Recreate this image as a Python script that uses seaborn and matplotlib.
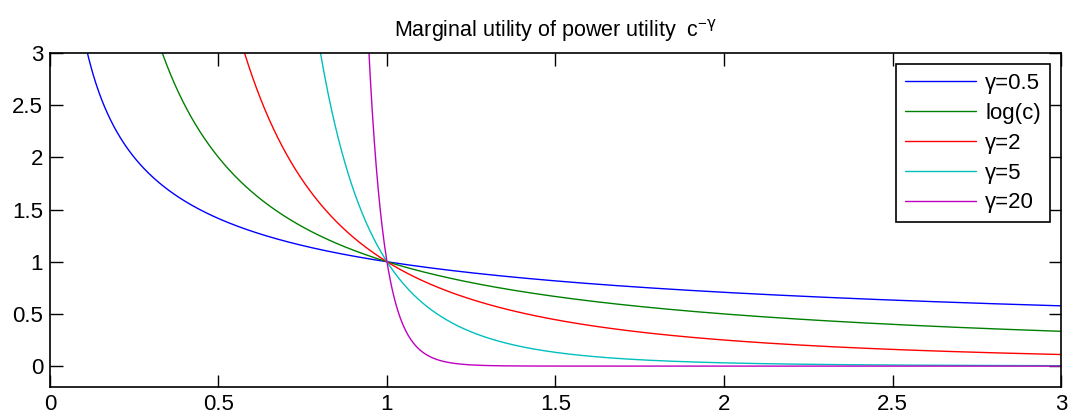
import numpy as np
import pandas as pd
import matplotlib
matplotlib.use("Agg")
import matplotlib.pyplot as plt
import seaborn as sns

# Curve parameters (risk aversion) as shown in the legend
gammas = [0.5, 1.0, 2.0, 5.0, 20.0]
labels = ["γ=0.5", "log(c)", "γ=2", "γ=5", "γ=20"]
colors = ["#0000ff", "#008000", "#ff0000", "#00bfbf", "#bf00bf"]
x_ticks = [0, 0.5, 1, 1.5, 2, 2.5, 3]
x_tick_labels = ["0", "0.5", "1", "1.5", "2", "2.5", "3"]
y_ticks = [0, 0.5, 1, 1.5, 2, 2.5, 3]
y_tick_labels = ["0", "0.5", "1", "1.5", "2", "2.5", "3"]

c = np.linspace(0.01, 3, 3000)
frames = []
for g, lab in zip(gammas, labels):
    frames.append(pd.DataFrame({"c": c, "mu": c ** (-g), "series": lab}))
df = pd.concat(frames, ignore_index=True)

sns.set_style("ticks")
plt.rcParams["font.family"] = ["Liberation Sans", "DejaVu Sans"]
plt.rcParams["mathtext.fontset"] = "custom"
plt.rcParams["mathtext.rm"] = "Liberation Sans"
plt.rcParams["mathtext.it"] = "DejaVu Sans"
plt.rcParams["text.color"] = "black"
plt.rcParams["xtick.labelcolor"] = "black"
plt.rcParams["ytick.labelcolor"] = "black"

fig = plt.figure(figsize=(10.7, 4.18), dpi=100)
ax = fig.add_axes([0.0467, 0.0742, 0.9449, 0.7990])

sns.lineplot(data=df, x="c", y="mu", hue="series", hue_order=labels,
             palette=colors, linewidth=1.0, ax=ax, sort=False, estimator=None)

ax.set_xlim(0, 3)
ax.set_ylim(-0.2, 3)
ax.set_xticks(x_ticks)
ax.set_xticklabels(x_tick_labels)
ax.set_yticks(y_ticks)
ax.set_yticklabels(y_tick_labels)
ax.set_xlabel("")
ax.set_ylabel("")
ax.tick_params(direction="in", length=9, width=1.0, labelsize=16,
               top=True, right=True, bottom=True, left=True, color="black",
               labelcolor="black", pad=5)
for s in ax.spines.values():
    s.set_visible(True)
    s.set_color("black")
    s.set_linewidth(1.2)

ax.set_title("Marginal utility of power utility  c$^{\\mathrm{-}γ}$", fontsize=15.5,
             pad=12, color="black")

leg = ax.legend(loc="upper right", fontsize=16, frameon=True, fancybox=False,
                edgecolor="black", framealpha=1.0, handlelength=3.2, borderpad=0.4,
                labelspacing=0.4, handletextpad=0.4, borderaxespad=0,
                bbox_to_anchor=(0.989, 0.967))
leg.get_frame().set_linewidth(1.2)
leg.get_frame().set_edgecolor("black")
for t in leg.get_texts():
    t.set_color("black")

fig.savefig("out.png", dpi=100)
